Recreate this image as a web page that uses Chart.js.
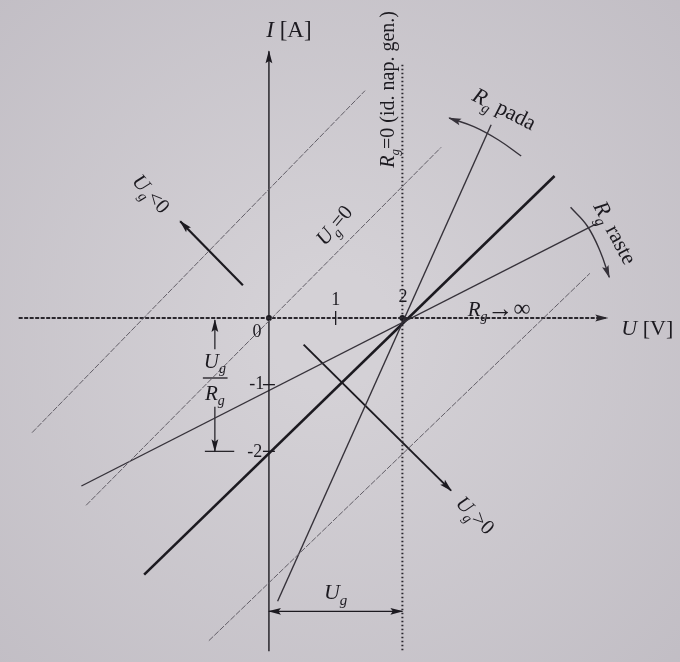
<!DOCTYPE html>
<html>
<head>
<meta charset="utf-8">
<script src="https://cdn.jsdelivr.net/npm/chart.js@4"></script>
<style>
  html, body { margin: 0; padding: 0; background: #c9c5cb; }
  canvas { display: block; }
</style>
</head>
<body>
<canvas id="c" width="680" height="662"></canvas>
<script>
// U–I plane of a real voltage source: load lines through the working point (2 V, 0 A)

// axis extents [V] / [A]
const axisU = [{x: -3.75, y: 0}, {x: 5.07, y: 0}];
const axisI = [{x: 0, y: -5.0}, {x: 0, y: 4.0}];
// ideal voltage generator (Rg = 0)
const idealGen = [{x: 2, y: 3.8}, {x: 2, y: -5.0}];

// characteristics through U = 2 V
const charMain = [{x: -1.87, y: -3.85}, {x: 4.28, y: 2.13}];   // I = U - 2
const charHighR = [{x: -2.81, y: -2.52}, {x: 4.92, y: 1.42}];  // I = U/2 - 1
const charLowR = [{x: 0.13, y: -4.25}, {x: 3.33, y: 2.9}];     // steep, small Rg

// parallel characteristics for other source voltages
const ugNeg = [{x: -3.55, y: -1.72}, {x: 1.44, y: 3.41}];
const ugZero = [{x: -2.74, y: -2.81}, {x: 2.58, y: 2.56}];
const ugPos = [{x: -0.9, y: -4.84}, {x: 4.81, y: 0.67}];

// direction arrows
const arrowUgNeg = [{x: -0.39, y: 0.49}, {x: -1.33, y: 1.45}];
const arrowUgPos = [{x: 0.52, y: -0.40}, {x: 2.73, y: -2.59}];
const arcRgFalls = [{x: 3.78, y: 2.43}, {x: 3.44, y: 2.67}, {x: 3.07, y: 2.87}, {x: 2.70, y: 3.0}];
const arcRgRises = [{x: 4.52, y: 1.66}, {x: 4.77, y: 1.38}, {x: 4.96, y: 1.01}, {x: 5.10, y: 0.61}];

// short-circuit current marker Ug/Rg and span Ug
const scUp = [{x: -0.81, y: -0.47}, {x: -0.81, y: -0.03}];
const scDown = [{x: -0.81, y: -1.33}, {x: -0.81, y: -2.0}];
const scBar = [{x: -0.96, y: -2.0}, {x: -0.52, y: -2.0}];
const fractionBar = [{x: -0.99, y: -0.90}, {x: -0.62, y: -0.90}];
const ugSpan = [{x: 0, y: -4.4}, {x: 2, y: -4.4}];

// tick marks and points
const tickU = [1];
const tickI = [-1, -2];
const keyPoints = [{x: 0, y: 0}, {x: 2, y: 0}];

const INK = '#1c1a20';
const MID = '#36323a';
const THIN = '#625e67';

function line(data, color, width, extra) {
  return Object.assign({
    data, showLine: true, borderColor: color, backgroundColor: color,
    borderWidth: width, pointRadius: 0, fill: false
  }, extra || {});
}

const datasets = [
  line(ugNeg, THIN, 1, {borderDash: [6, 1.5]}),
  line(ugZero, THIN, 1, {borderDash: [6, 1.5]}),
  line(ugPos, THIN, 1, {borderDash: [6, 1.5]}),
  line(idealGen, '#2a272d', 2, {borderDash: [1.6, 2.4]}),
  line(axisU, '#2a272d', 2, {borderDash: [4, 1.5], arrowEnd: true}),
  line(axisI, INK, 1.4, {arrowEnd: true}),
  line(charLowR, MID, 1.4),
  line(charHighR, MID, 1.4),
  line(charMain, INK, 2.6),
  line(arrowUgNeg, INK, 2.2, {arrowEnd: true}),
  line(arrowUgPos, INK, 1.9, {arrowEnd: true}),
  line(arcRgFalls, MID, 1.4, {tension: 0.4, arrowEnd: true}),
  line(arcRgRises, MID, 1.4, {tension: 0.4, arrowEnd: true}),
  line(scUp, INK, 1.2, {arrowEnd: true}),
  line(scDown, INK, 1.2, {arrowEnd: true}),
  line(scBar, INK, 1.2),
  line(fractionBar, INK, 1.3),
  line(ugSpan, INK, 1.2, {arrowEnd: true, arrowStart: true}),
  {data: keyPoints, pointRadius: 3, pointBackgroundColor: INK, pointBorderWidth: 0, showLine: false}
];

// text annotations in data coordinates; parts: t = text, i = italic, s = subscript, z = own size
const SERIF = '"Liberation Serif", "DejaVu Serif", serif';
const labels = [
  {x: 0.30, y: 4.31, size: 23, parts: [{t: 'I', i: true}, {t: ' [A]'}]},
  {x: 5.67, y: -0.17, size: 22, parts: [{t: 'U', i: true}, {t: ' [V]'}]},
  {x: -0.18, y: -0.22, size: 18, parts: [{t: '0'}]},
  {x: 1.0, y: 0.27, size: 18, parts: [{t: '1'}]},
  {x: 2.01, y: 0.31, size: 18, parts: [{t: '2'}]},
  {x: -0.07, y: -1.0, size: 18, align: 'right', parts: [{t: '-1'}]},
  {x: -0.10, y: -2.02, size: 18, align: 'right', parts: [{t: '-2'}]},
  {x: 1.79, y: 3.43, size: 20, rot: -90, parts: [{t: 'R', i: true}, {t: 'g', i: true, s: true}, {t: '=0 (id. nap. gen.)'}]},
  {x: 3.52, y: 3.12, size: 22, rot: 27, parts: [{t: 'R', i: true}, {t: 'g', i: true, s: true}, {t: ' pada'}]},
  {x: 5.17, y: 1.27, size: 22, rot: 62, parts: [{t: 'R', i: true}, {t: 'g', i: true, s: true}, {t: ' raste'}]},
  {x: 3.45, y: 0.12, size: 21, parts: [{t: 'R', i: true}, {t: 'g', i: true, s: true}, {t: '\u2192', z: 26}, {t: '\u221E', z: 24}]},
  {x: 0.99, y: 1.38, size: 21, rot: -50, parts: [{t: 'U', i: true}, {t: 'g', i: true, s: true}, {t: '=0'}]},
  {x: -1.78, y: 1.85, size: 21, rot: 48, parts: [{t: 'U', i: true}, {t: 'g', i: true, s: true}, {t: '<0'}]},
  {x: 3.08, y: -2.97, size: 21, rot: 45, parts: [{t: 'U', i: true}, {t: 'g', i: true, s: true}, {t: '>0'}]},
  {x: 1.0, y: -4.13, size: 22, parts: [{t: 'U', i: true}, {t: 'g', i: true, s: true}]},
  {x: -0.81, y: -0.66, size: 21, parts: [{t: 'U', i: true}, {t: 'g', i: true, s: true}]},
  {x: -0.81, y: -1.14, size: 21, parts: [{t: 'R', i: true}, {t: 'g', i: true, s: true}]}
];

function fontFor(p, size) {
  const sz = p.z ? p.z : (p.s ? Math.round(size * 0.66) : size);
  return (p.i ? 'italic ' : '') + sz + 'px ' + SERIF;
}

function drawRich(ctx, lab, px, py) {
  ctx.save();
  ctx.translate(px, py);
  ctx.rotate((lab.rot || 0) * Math.PI / 180);
  let w = 0;
  const widths = lab.parts.map(p => { ctx.font = fontFor(p, lab.size); const m = ctx.measureText(p.t).width; w += m; return m; });
  let x = lab.align === 'right' ? -w : -w / 2;
  ctx.textBaseline = 'middle';
  ctx.fillStyle = INK;
  lab.parts.forEach((p, k) => {
    ctx.font = fontFor(p, lab.size);
    ctx.fillText(p.t, x, p.s ? lab.size * 0.34 : 0);
    x += widths[k];
  });
  ctx.restore();
}

function arrowHead(ctx, from, to, color) {
  const a = Math.atan2(to.y - from.y, to.x - from.x);
  const len = 12, half = 3.4;
  ctx.save();
  ctx.translate(to.x, to.y);
  ctx.rotate(a);
  ctx.fillStyle = color;
  ctx.beginPath();
  ctx.moveTo(1, 0);
  ctx.lineTo(-len, -half);
  ctx.lineTo(-len * 0.8, 0);
  ctx.lineTo(-len, half);
  ctx.closePath();
  ctx.fill();
  ctx.restore();
}

const paper = {
  id: 'paper',
  beforeDraw(chart) {
    const {ctx, width, height} = chart;
    const g = ctx.createRadialGradient(330, 330, 60, 330, 330, 520);
    g.addColorStop(0, '#d4d1d6');
    g.addColorStop(1, '#c0bcc3');
    ctx.save();
    ctx.fillStyle = g;
    ctx.fillRect(0, 0, width, height);
    ctx.restore();
  }
};

const decorations = {
  id: 'decorations',
  afterDatasetsDraw(chart) {
    const {ctx} = chart;
    const sx = chart.scales.x, sy = chart.scales.y;
    const P = d => ({x: sx.getPixelForValue(d.x), y: sy.getPixelForValue(d.y)});
    chart.data.datasets.forEach(ds => {
      const pts = ds.data;
      if (ds.arrowEnd) arrowHead(ctx, P(pts[pts.length - 2]), P(pts[pts.length - 1]), ds.borderColor);
      if (ds.arrowStart) arrowHead(ctx, P(pts[1]), P(pts[0]), ds.borderColor);
    });
    ctx.save();
    ctx.strokeStyle = INK;
    ctx.lineWidth = 1.3;
    tickU.forEach(v => {
      const p = P({x: v, y: 0});
      ctx.beginPath(); ctx.moveTo(p.x, p.y - 7); ctx.lineTo(p.x, p.y + 7); ctx.stroke();
    });
    tickI.forEach(v => {
      const p = P({x: 0, y: v});
      ctx.beginPath(); ctx.moveTo(p.x - 6, p.y); ctx.lineTo(p.x + 6, p.y); ctx.stroke();
    });
    ctx.restore();
    labels.forEach(l => { const p = P(l); drawRich(ctx, l, p.x, p.y); });
  }
};

new Chart(document.getElementById('c'), {
  type: 'scatter',
  data: {datasets},
  options: {
    responsive: false,
    animation: false,
    layout: {padding: 0},
    plugins: {legend: {display: false}, tooltip: {enabled: false}},
    scales: {
      x: {type: 'linear', display: false, min: -3.97, max: 6.10},
      y: {type: 'linear', display: false, min: -5.10, max: 4.71}
    }
  },
  plugins: [paper, decorations]
});
</script>
</body>
</html>
